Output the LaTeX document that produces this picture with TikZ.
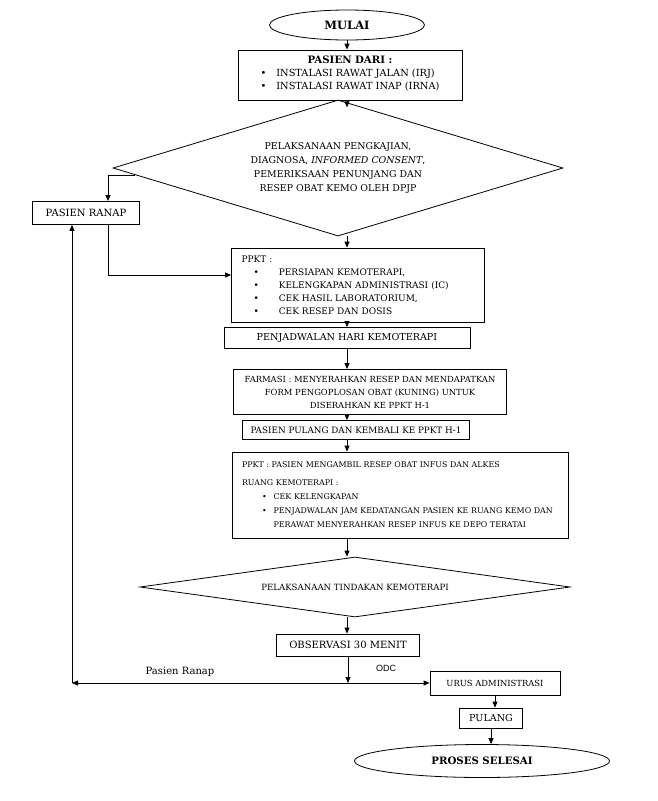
\documentclass[tikz,border=0pt]{standalone}
\usepackage{fontspec}
\setmainfont{DejaVu Serif}
\newfontfamily\odcfont{Liberation Sans}
\usetikzlibrary{shapes.geometric,arrows.meta}

\begin{document}
\begin{tikzpicture}[x=1pt, y=-1pt,
            font=\fontsize{9.6}{14}\selectfont,
            kotak/.style={rectangle, draw=black, line width=0.8pt, inner sep=2pt},
            ujung/.style={ellipse, draw=black, line width=0.8pt, inner sep=0pt},
            kondisi/.style={diamond, draw=black, line width=0.8pt, inner sep=0pt, align=center},
            panah/.style={-{Triangle[length=6pt,width=5pt]}, line width=0.8pt}
        ]
        \useasboundingbox (0,0) rectangle (657,801);
        \coordinate (jalur) at (347,0);
        \coordinate (kiri) at (108,0);
        \coordinate (balik) at (72,0);

        \node[ujung, minimum width=155pt, minimum height=30pt, font=\fontsize{11.5}{13}\selectfont\bfseries] (mulai) at (347,25) {MULAI};
        \node[kotak, minimum width=224pt, minimum height=50pt, align=center, font=\fontsize{9.8}{13}\selectfont] (asal) at (350,75) {{\fontsize{10.2}{13}\selectfont\bfseries PASIEN DARI :}\\
            \begin{tabular}[t]{@{}l@{\hspace{10pt}}l@{}}
            \textbullet & INSTALASI RAWAT JALAN (IRJ)\\
            \textbullet & INSTALASI RAWAT INAP (IRNA)
            \end{tabular}};
        \node[kondisi, minimum width=450pt, minimum height=136pt, aspect=3.3, font=\fontsize{9.4}{14}\selectfont] (kaji) at (338,168) {PELAKSANAAN PENGKAJIAN,\\ DIAGNOSA, \textit{INFORMED CONSENT},\\ PEMERIKSAAN PENUNJANG DAN\\ RESEP OBAT KEMO OLEH DPJP};
        \node[kotak, minimum width=107pt, minimum height=23pt, font=\fontsize{10}{12}\selectfont] (ranap) at (86,213) {PASIEN RANAP};
        \node[kotak, text width=233pt, inner xsep=10pt, minimum height=74pt, align=left, font=\fontsize{9}{13}\selectfont] (ppkt) at (358,285) {PPKT :\\
            \hspace*{12pt}\textbullet\hspace{20pt}PERSIAPAN KEMOTERAPI,\\
            \hspace*{12pt}\textbullet\hspace{20pt}KELENGKAPAN ADMINISTRASI (IC)\\
            \hspace*{12pt}\textbullet\hspace{20pt}CEK HASIL LABORATORIUM,\\
            \hspace*{12pt}\textbullet\hspace{20pt}CEK RESEP DAN DOSIS};
        \node[kotak, minimum width=246pt, minimum height=21pt] (jadwal) at (347,338) {PENJADWALAN HARI KEMOTERAPI};
        \node[kotak, minimum width=273pt, minimum height=45pt, align=center, font=\fontsize{8.4}{13}\selectfont] (farmasi) at (370,392) {FARMASI : MENYERAHKAN RESEP DAN MENDAPATKAN\\ FORM PENGOPLOSAN OBAT (KUNING) UNTUK\\ DISERAHKAN KE PPKT H-1};
        \node[kotak, minimum width=227pt, minimum height=19pt, font=\fontsize{8.8}{11}\selectfont] (pulang1) at (356,430) {PASIEN PULANG DAN KEMBALI KE PPKT H-1};
        \node[kotak, text width=316pt, inner xsep=10pt, minimum height=86pt, align=left, font=\fontsize{7.9}{14}\selectfont] (ruang) at (400,495) {PPKT : PASIEN MENGAMBIL RESEP OBAT INFUS DAN ALKES\\[4pt]
            RUANG KEMOTERAPI :\\
            \hspace*{20pt}\textbullet\hspace{7pt}CEK KELENGKAPAN\\
            \hspace*{20pt}\textbullet\hspace{7pt}PENJADWALAN JAM KEDATANGAN PASIEN KE RUANG KEMO DAN\\
            \hspace*{20pt}\phantom{\textbullet}\hspace{7pt}PERAWAT MENYERAHKAN RESEP INFUS KE DEPO TERATAI};
        \node[kondisi, minimum width=430pt, minimum height=60pt, aspect=7.2, font=\fontsize{8.6}{11}\selectfont] (tindakan) at (355,587) {PELAKSANAAN TINDAKAN KEMOTERAPI};
        \node[kotak, minimum width=143pt, minimum height=22pt, font=\fontsize{10}{12}\selectfont] (observasi) at (348,645) {OBSERVASI 30 MENIT};
        \node[kotak, minimum width=130pt, minimum height=24pt, font=\fontsize{8.4}{10}\selectfont] (urus) at (495,683) {URUS ADMINISTRASI};
        \node[kotak, minimum width=63pt, minimum height=20pt] (pulang) at (491,718) {PULANG};
        \node[ujung, minimum width=255pt, minimum height=33pt, font=\fontsize{10.2}{12}\selectfont\bfseries] (selesai) at (482,761) {PROSES SELESAI};

        \node[font=\fontsize{10}{12}\selectfont] (lblranap) at (180,672) {Pasien Ranap};
        \node[font=\fontsize{9}{11}\odcfont] (lblodc) at (386,668) {ODC};

        % alur utama
        \draw[panah] (mulai.south) -- (mulai.south |- asal.north);
        \draw[panah] (asal.south -| jalur) -- ++(0,7);
        \draw[panah] (kaji.south -| jalur) -- (ppkt.north -| jalur);
        \draw[panah] (ppkt.south -| jalur) -- (jadwal.north -| jalur);
        \draw[panah] (jadwal.south -| jalur) -- (farmasi.north -| jalur);
        \draw[panah] (farmasi.south -| jalur) -- (pulang1.north -| jalur);
        \draw[panah] (pulang1.south -| jalur) -- (ruang.north -| jalur);
        \draw[panah] (ruang.south -| jalur) -- (tindakan.north -| jalur);
        \draw[panah] (tindakan.south -| jalur) -- (observasi.north -| jalur);

        % pasien ranap
        \draw[panah] ([xshift=22pt,yshift=-7pt]kaji.west) -| (ranap.north -| kiri);
        \draw[panah] (ranap.south -| kiri) |- ([yshift=10pt]ppkt.west);

        % cabang setelah observasi
        \path (observasi.south |- urus.west) coordinate (cabang);
        \draw[panah] (observasi.south) -- (cabang);
        \draw[panah] (cabang) -- (urus.west);
        \draw[panah] (cabang) -- (cabang -| balik);
        \draw[panah] (cabang -| balik) -- (ranap.south -| balik);
        \draw[panah] (urus.south) -- (urus.south |- pulang.north);
        \draw[panah] (pulang.south) -- (pulang.south |- selesai.north);
    \end{tikzpicture}
\end{document}
